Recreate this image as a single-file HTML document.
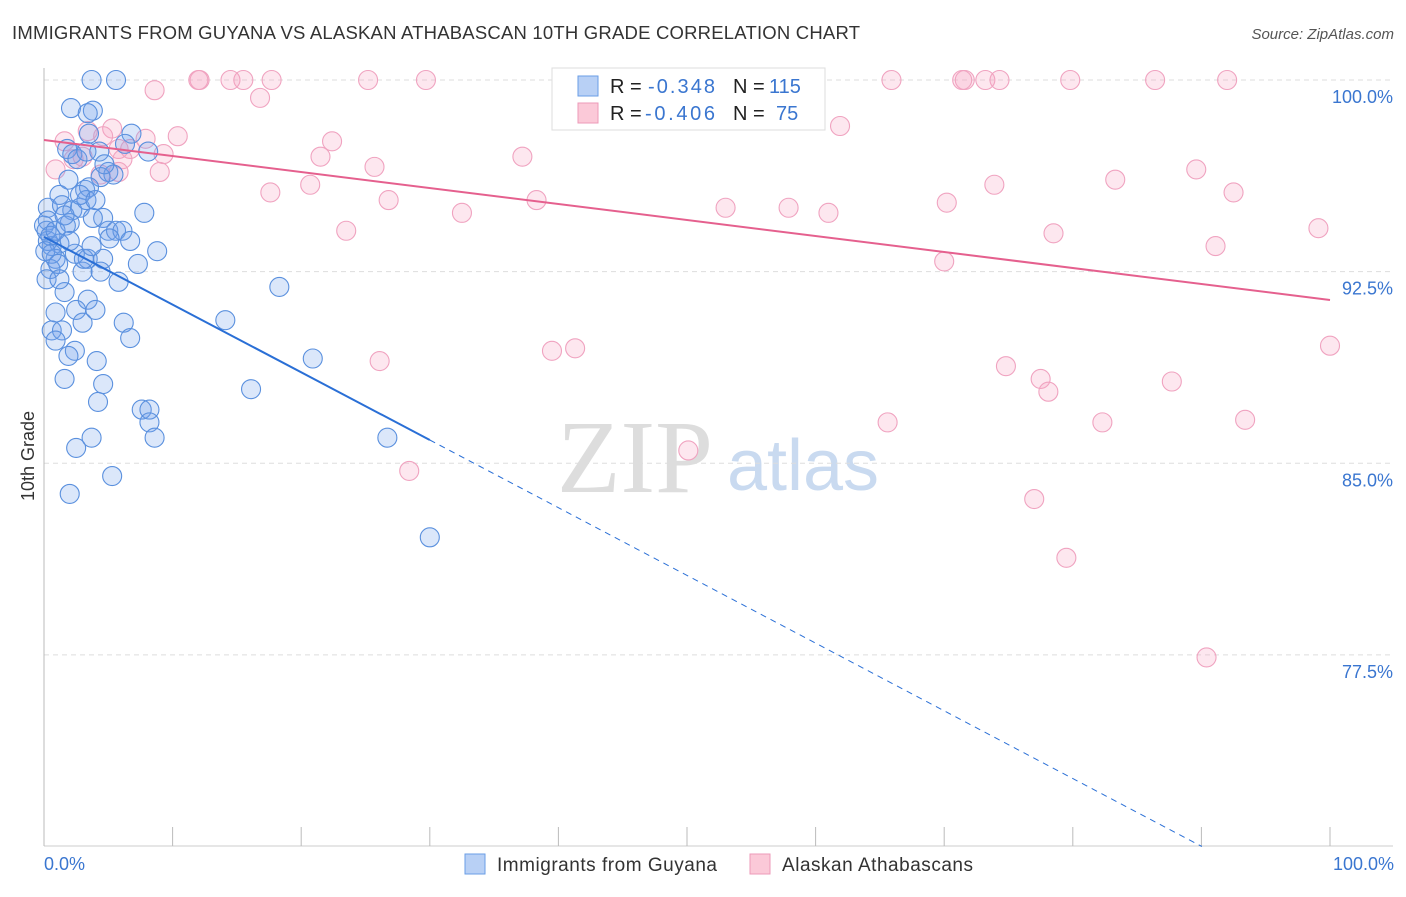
<!DOCTYPE html>
<html><head><meta charset="utf-8"><style>
body{margin:0;background:#fff;font-family:"Liberation Sans",sans-serif;}
</style></head><body>
<svg width="1406" height="892" xmlns="http://www.w3.org/2000/svg">
<text x="12" y="39" font-size="18.5" fill="#333" textLength="848">IMMIGRANTS FROM GUYANA VS ALASKAN ATHABASCAN 10TH GRADE CORRELATION CHART</text>
<text x="1394" y="39" font-size="15" fill="#555" font-style="italic" text-anchor="end">Source: ZipAtlas.com</text>
<g>
<text x="635" y="492" font-size="104" fill="#ddd" font-family="Liberation Serif" text-anchor="middle">ZIP</text>
<text x="803" y="490" font-size="72" fill="#c9daf0" text-anchor="middle">atlas</text>
</g>
<g id="grid"></g>
<g id="axes"></g>
<g id="marks"></g>
<text x="34" y="456" font-size="18" fill="#333" transform="rotate(-90 34 456)" text-anchor="middle">10th Grade</text>
<text x="44" y="870" font-size="18" fill="#3a76d0">0.0%</text>
<text x="1394" y="870" font-size="18" fill="#3a76d0" text-anchor="end">100.0%</text>
<g>
<rect x="552" y="68" width="273" height="62" fill="#fff" stroke="#ddd"/>
<rect x="578" y="76" width="20" height="20" fill="#b8d0f5" stroke="#6a9ee6"/>
<rect x="578" y="103" width="20" height="20" fill="#fbc9d8" stroke="#ec9ab8"/>
<g font-size="20">
<text x="610" y="93" fill="#222">R =</text><text x="648" y="93" fill="#3a76d0" textLength="67">-0.348</text>
<text x="733" y="93" fill="#222">N =</text><text x="769" y="93" fill="#3a76d0">115</text>
<text x="610" y="120" fill="#222">R =</text><text x="645" y="120" fill="#3a76d0" textLength="70">-0.406</text>
<text x="733" y="120" fill="#222">N =</text><text x="776" y="120" fill="#3a76d0">75</text>
</g>
</g>
<g>
<rect x="465" y="854" width="20" height="20" fill="#b8d0f5" stroke="#6a9ee6"/>
<text x="497" y="871" font-size="19" fill="#333" textLength="220">Immigrants from Guyana</text>
<rect x="750" y="854" width="20" height="20" fill="#fbc9d8" stroke="#ec9ab8"/>
<text x="782" y="871" font-size="19" fill="#333" textLength="191">Alaskan Athabascans</text>
</g>
</svg>
<script>
const yTicks=[100,92.5,85,77.5];
const yTickLabels=["100.0%","92.5%","85.0%","77.5%"];
const xTicks=[0,10,20,30,40,50,60,70,80,90,100];
const blueX=[3.7,5.6,2.1,3.8,3.4,6.8,3.5,1.8,4.3,2.2,8.1,6.3,5.0,5.4,4.4,3.2,3.5,1.9,1.2,0.3,1.4,2.2,2.8,3.3,4.6,3.8,7.8,0.3,2.0,5.0,5.6,6.1,5.1,6.7,8.8,2.4,3.4,4.6,7.3,0.6,1.2,0.3,0.9,0.5,3.0,4.4,5.8,18.3,1.6,3.4,4.0,2.5,0.9,0.6,1.4,3.0,6.2,6.7,14.1,0.9,2.4,1.9,4.1,1.6,4.6,16.1,4.2,20.9,7.6,8.2,8.2,8.6,3.7,2.5,5.3,2.0,26.7,30.0,0,0.2,0.5,0.9,1.7,0.1,0.6,1.1,0.2,1.2,3.1,3.7,2.0,1.6,2.8,4.0,2.6,4.7,3.3];
const blueY=[100,100,98.9,98.8,98.7,97.9,97.9,97.3,97.2,97.1,97.2,97.5,96.4,96.3,96.2,95.7,95.8,96.1,95.5,95.0,95.1,94.9,95.0,95.3,94.6,94.6,94.8,94.5,94.4,94.1,94.1,94.1,93.8,93.7,93.3,93.2,93.0,93.0,92.8,93.5,93.6,93.7,93.0,92.6,92.5,92.5,92.1,91.9,91.7,91.4,91.0,91.0,90.9,90.2,90.2,90.5,90.5,89.9,90.6,89.8,89.4,89.2,89.0,88.3,88.1,87.9,87.4,89.1,87.1,87.1,86.6,86.0,86.0,85.6,84.5,83.8,86.0,82.1,94.3,94.1,93.9,94.1,94.3,93.3,93.2,92.8,92.2,92.2,93.0,93.5,93.7,94.7,95.5,95.3,96.9,96.7,97.2];
const pinkX=[12.1,12.0,15.5,17.7,25.2,29.7,14.5,65.9,71.6,71.4,73.2,74.3,79.8,86.4,92.0,8.6,16.8,0.9,1.6,3.4,5.3,4.6,5.8,7.9,10.4,6.7,9.3,9.0,2.3,3.0,6.1,22.4,21.5,25.7,37.2,61.9,17.6,20.7,26.8,38.3,32.5,23.5,53.0,57.9,61.0,70.2,73.9,83.3,89.6,92.5,99.1,78.5,91.1,70.0,26.1,39.5,41.3,74.8,77.5,78.1,87.7,100,65.6,82.3,93.4,50.1,28.4,77.0,79.5,90.4,5.8,4.4];
const pinkY=[100,100,100,100,100,100,100,100,100,100,100,100,100,100,100,99.6,99.3,96.5,97.6,98.0,98.1,97.8,97.3,97.7,97.8,97.3,97.1,96.4,96.9,97.0,96.9,97.6,97.0,96.6,97.0,98.2,95.6,95.9,95.3,95.3,94.8,94.1,95.0,95.0,94.8,95.2,95.9,96.1,96.5,95.6,94.2,94.0,93.5,92.9,89.0,89.4,89.5,88.8,88.3,87.8,88.2,89.6,86.6,86.6,86.7,85.5,84.7,83.6,81.3,77.4,96.4,96.3];
const blueTrend=[93.86,-0.265];
const pinkTrend=[97.65,-0.0626];

const NS="http://www.w3.org/2000/svg";
const X=v=>44+v*12.86;
const Y=v=>80+(100-v)*25.55;
function mk(tag,parent,attrs){const e=document.createElementNS(NS,tag);for(const k in attrs)e.setAttribute(k,attrs[k]);document.getElementById(parent).appendChild(e);return e;}
yTicks.forEach((t,i)=>{
  const l=mk('line','grid',{x1:44,x2:1393,y1:Y(t),y2:Y(t),stroke:'#ddd','stroke-dasharray':'5,4'});
  
  
  const tx=mk('text','grid',{x:1393,y:Y(t)+23,'font-size':18,fill:'#3a76d0','text-anchor':'end'});
  tx.textContent=yTickLabels[i];
  
  
});
const ax=mk('line','axes',{x1:44,x2:1393,y1:846,y2:846,stroke:'#ccc'});


const ay=mk('line','axes',{x1:44,x2:44,y1:68,y2:846,stroke:'#bbb'});


xTicks.forEach(t=>{
  const l=mk('line','axes',{x1:X(t),x2:X(t),y1:827,y2:846,stroke:'#bbb'});
  
  
});
pinkX.forEach((x,i)=>{
  const c=mk('circle','marks',{cx:X(x),cy:Y(pinkY[i]),r:9.5,fill:'rgba(246,160,190,0.25)',stroke:'#f0a3c0','stroke-width':1.1});
  
  
});
blueX.forEach((x,i)=>{
  const c=mk('circle','marks',{cx:X(x),cy:Y(blueY[i]),r:9.5,fill:'rgba(110,160,235,0.25)',stroke:'#5a90de','stroke-width':1.1});
  
  
});
const bx1=30,bEnd=(70-blueTrend[0])/blueTrend[1];
const bl=mk('line','marks',{x1:X(0),y1:Y(blueTrend[0]),x2:X(bx1),y2:Y(blueTrend[0]+blueTrend[1]*bx1),stroke:'#2a6fd6','stroke-width':2});


const bd=mk('line','marks',{x1:X(bx1),y1:Y(blueTrend[0]+blueTrend[1]*bx1),x2:X(bEnd),y2:Y(70),stroke:'#2a6fd6','stroke-width':1,'stroke-dasharray':'6,5'});


const pl=mk('line','marks',{x1:X(0),y1:Y(pinkTrend[0]),x2:X(100),y2:Y(pinkTrend[0]+pinkTrend[1]*100),stroke:'#e5608e','stroke-width':2});


</script>
</body></html>
